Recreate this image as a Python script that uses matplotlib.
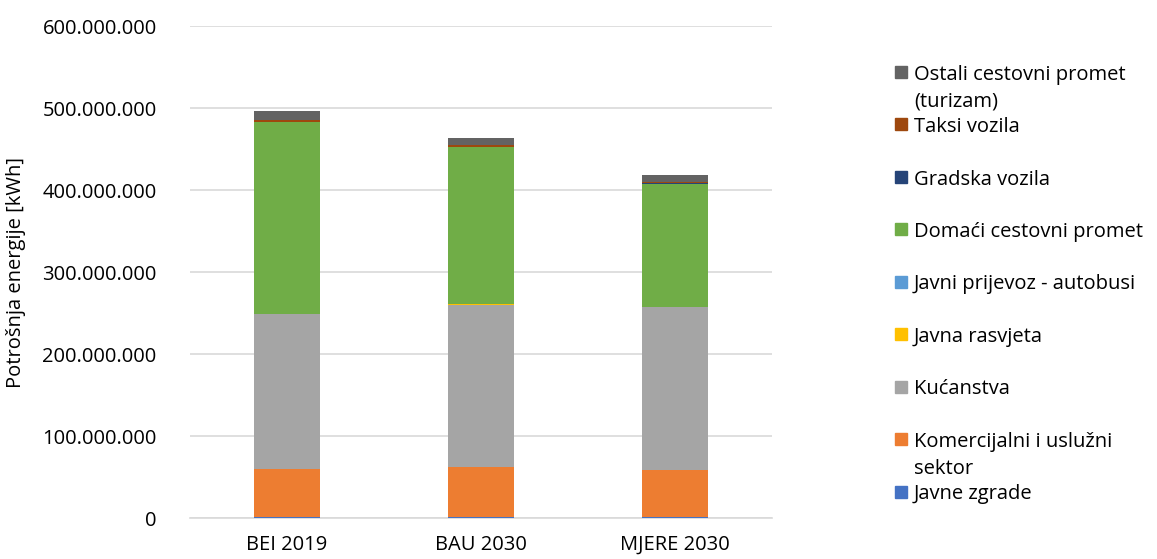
import matplotlib
matplotlib.use('Agg')
import matplotlib.pyplot as plt
import matplotlib.patches as mpatches
from matplotlib.ticker import FuncFormatter
import numpy as np

plt.rcParams['font.family'] = ['Open Sans', 'DejaVu Sans']

categories = ['BEI 2019', 'BAU 2030', 'MJERE 2030']

# stacking order bottom -> top, values in kWh
series_names = ['Javne zgrade', 'Komercijalni i uslužni\nsektor', 'Kućanstva', 'Javna rasvjeta',
                'Javni prijevoz - autobusi', 'Domaći cestovni promet', 'Gradska vozila',
                'Taksi vozila', 'Ostali cestovni promet\n(turizam)']
javne_zgrade = [1.5e6, 1.5e6, 0.8e6]
komercijalni = [58.5e6, 61.0e6, 58.0e6]
kucanstva = [188.5e6, 197.6e6, 198.0e6]
javna_rasvjeta = [0.4e6, 0.3e6, 0.2e6]
autobusi = [0.4e6, 0.2e6, 0.3e6]
domaci = [233.5e6, 191.5e6, 150.5e6]
gradska = [0.3e6, 0.3e6, 0.3e6]
taksi = [2.2e6, 2.0e6, 1.8e6]
ostali = [11.0e6, 9.0e6, 9.0e6]

colors = ['#4472C4', '#ED7D31', '#A5A5A5', '#FFC000', '#5B9BD5',
          '#70AD47', '#264478', '#9E480E', '#636363']

series = [javne_zgrade, komercijalni, kucanstva, javna_rasvjeta, autobusi,
          domaci, gradska, taksi, ostali]

fs = 14.5

fig = plt.figure(figsize=(11.57, 5.59), dpi=100)
ax = fig.add_axes([190/1157, 41/559, (772-190)/1157, (518-26)/559])

x = np.arange(len(categories))
bottom = np.zeros(len(categories))
for vals, c in zip(series, colors):
    ax.bar(x, vals, 0.34, bottom=bottom, color=c, zorder=3)
    bottom += np.array(vals)

ax.set_xlim(-0.5, 2.5)
ax.set_ylim(0, 600e6)
ax.set_yticks(np.arange(0, 600e6 + 1, 100e6))
ax.yaxis.set_major_formatter(FuncFormatter(lambda v, p: f'{int(v):,}'.replace(',', '.')))
ax.set_xticks(x)
ax.set_xticklabels(categories)
ax.grid(axis='y', color='#D9D9D9', linewidth=1.2, zorder=0)
for s in ['top', 'right', 'left']:
    ax.spines[s].set_visible(False)
ax.spines['bottom'].set_color('#D9D9D9')
ax.spines['bottom'].set_linewidth(1.2)
ax.tick_params(axis='both', length=0, labelsize=fs, colors='#000000')
ax.tick_params(axis='y', pad=24)
ax.tick_params(axis='x', pad=12)
ax.set_ylabel('Potrošnja energije [kWh]', fontsize=fs, labelpad=12)

# legend, top entry = last series
W, H = 1157, 559
for i, idx in enumerate(range(len(series) - 1, -1, -1)):
    ypx = 71 + i * 52.5
    fy = 1 - ypx / H
    fig.patches.append(mpatches.Rectangle((895 / W, fy - 6.5 / H), 12 / W, 12 / H,
                                          transform=fig.transFigure, color=colors[idx]))
    for j, line in enumerate(series_names[idx].split('\n')):
        fig.text(914 / W, fy - (j * 27 + 1) / H, line, fontsize=fs,
                 va='center_baseline', ha='left')

fig.savefig('out.png', dpi=100)
